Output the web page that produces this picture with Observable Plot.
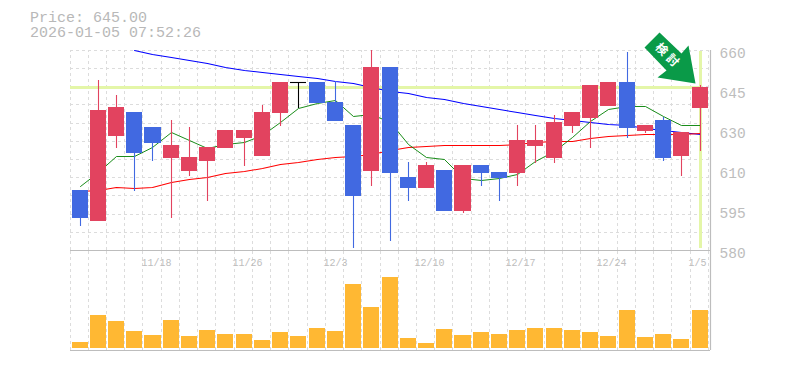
<!DOCTYPE html>
<html>
<head>
<meta charset="utf-8">
<script src="https://cdn.jsdelivr.net/npm/d3@7"></script>
<script src="https://cdn.jsdelivr.net/npm/@observablehq/plot@0.6"></script>
<style>
  html, body { margin: 0; padding: 0; background: #fff; }
  #page { position: relative; width: 785px; height: 370px; overflow: hidden; }
  #title { position: absolute; left: 30px; top: 11px; font: 15px/15px "Liberation Mono", monospace; color: #b8b8b8; white-space: pre; z-index: 2; }
  #price, #volume { position: absolute; left: 0; }
  #price { top: 0; } #volume { top: 250px; }
  svg { display: block; background: transparent !important; }
</style>
</head>
<body>
<div id="page">
  <div id="title">Price: 645.00
2026-01-05 07:52:26</div>
  <div id="volume"></div>
  <div id="price"></div>
</div>
<script>
const dates = ["11/12","11/13","11/14","11/17","11/18","11/19","11/20","11/21","11/25","11/26","11/27","11/28","12/1","12/2","12/3","12/4","12/5","12/8","12/9","12/10","12/11","12/12","12/15","12/16","12/17","12/18","12/19","12/22","12/23","12/24","12/25","12/26","12/29","12/30","1/5"];
const opens  = [604,591.6,625.6,635.2,629.2,616.8,611.6,615.6,620.8,624.8,617.6,634.8,647.2,647.2,639.2,630,611.6,653.2,609.2,604.8,612,595.6,614,611.2,610.8,621.6,616.8,629.6,632.8,637.6,647.2,627.6,632,617.6,636.8];
const closes = [592.8,636,637.2,618.8,622.8,622,617.2,621.2,628,628,635.2,647.2,647.2,638.8,631.6,601.6,653.2,610.8,604.8,614,595.6,614,610.8,608.8,624,624,631.2,635.2,646,647.2,628.8,630,616.8,627.2,645];
const highs  = [604,648,642,635.2,629.2,632,629.2,621.2,628,628,638,647.2,647.2,647.2,647.6,630,660,653.2,615.2,615.2,612,614,614,611.2,630,630,634,635.2,646,647.2,659.2,630,633.2,627.2,646];
const lows   = [589.6,591.6,620.8,603.6,615.6,592.8,609.6,599.6,620.8,613.6,617.6,629.6,636.8,638.8,631.6,580.8,605.6,583.6,599.6,604.8,595.6,594.8,605.6,599.6,605.6,614.8,614.8,626.8,620.8,637.6,624.8,626.8,615.6,609.6,619.6];
const maGreen = [605.7,611.3,617.6,617.6,621.3,627.2,624,620.8,622.4,623.3,626,631.3,636.9,638.7,639.9,633.5,634.3,631.1,622.4,617.3,616.3,608.8,607.9,608.7,610.5,615.7,619.7,625.3,631.6,636.5,637.7,637.7,633.7,630,630];
const maRed = [603.6,604,605,604.7,605.3,607.3,608.3,609.3,610.7,611.6,612.7,614.3,615.3,616.3,617.1,617.7,618.5,620,621.1,621.7,621.9,621.9,621.9,621.9,622.4,623.2,623.4,623.6,624.7,625.6,625.9,626.3,626.4,626.5,626.6];
const maBlue = [null,null,null,660,658.5,657.2,656,654.7,653.3,652,651.1,650.3,649.7,648.7,647.7,646.7,645.2,643.6,642.7,641.3,640.3,638.9,637.5,636.3,635.2,634,632.8,632,631.3,630.5,629.8,628.8,628,627.1,626.4];
const volumes = [6,33,27,17,13,28,12,18,14,14,8,16,12,20,17,64,41,71,10,5,19,13,16,14,18,20,20,18,16,12,38,11,14,9,38];
const dateTicks = ["11/18","11/26","12/3","12/10","12/17","12/24","1/5"];
const priceTicks = [580,596,612,628,644,660];
const priceLabels = ["580","595","610","630","645","660"];
const lastPrice = 645;
const arrowX = [32.34,33.51,33.93,34.30,32.23,32.71,31.5];
const arrowY = [667.2,658.8,661.9,646.8,649.2,652.1,661.1];
const stamp = [{t:"検",x:32.42,y:660.5},{t:"討",x:33.02,y:656.1}];

const RED = "#e2435f", BLUE = "#4169e1", ORANGE = "#ffb833", HILITE = "#e4f6a8", GRID = "#dcdcdc", AXIS = "#bdbdbd";
const MONO = "Liberation Mono, monospace";
const slots = d3.range(dates.length + 1);
const xScale = {type: "linear", domain: [0, 35], range: [69.5, 707.8], round: true};
const candles = dates.map((date, i) => ({
  date, i, open: opens[i], close: closes[i], high: highs[i], low: lows[i],
  color: closes[i] > opens[i] ? RED : closes[i] < opens[i] ? BLUE : "#000"
}));
const series = a => a.map((v, i) => ({i, v})).filter(d => d.v != null);
const maLine = (a, stroke, strokeWidth) => Plot.line(series(a), {x: d => d.i + 0.55, y: "v", stroke, strokeWidth});
const frameEdge = 35.1;

const price = Plot.plot({
  width: 785, height: 262, marginTop: 50, marginBottom: 12, marginLeft: 70, marginRight: 75,
  style: {overflow: "visible", background: "transparent"},
  x: {...xScale, axis: null},
  y: {domain: [580, 660], range: [249.9, 49.9], round: true, axis: null},
  color: {type: "identity"},
  marks: [
    Plot.ruleY(d3.range(12).map(k => 580 + k * 80 / 11), {x1: 0, x2: frameEdge, stroke: GRID, strokeDasharray: "3,3"}),
    Plot.ruleX(slots, {x: d => d, y1: 580, y2: 660, stroke: GRID, strokeDasharray: "3,3"}),
    Plot.ruleY([lastPrice], {x1: 0, x2: 34.55, stroke: HILITE, strokeWidth: 3}),
    Plot.ruleX([34.55], {y1: 580.6, y2: 659.6, stroke: HILITE, strokeWidth: 3}),
    Plot.ruleY([580], {x1: 0, x2: frameEdge, stroke: AXIS, strokeWidth: 1.2}),
    Plot.ruleX([frameEdge], {y1: 580, y2: 660, stroke: AXIS, strokeWidth: 1.2}),
    maLine(maBlue, "#0000ff", 1.05),
    maLine(maRed, "#ff0000", 1.05),
    maLine(maGreen, "#008000", 0.9),
    Plot.ruleX(candles, {x: d => d.i + 0.55, y1: "low", y2: "high", stroke: "color", strokeWidth: 1.1}),
    Plot.rectY(candles.filter(d => d.open !== d.close), {x1: d => d.i + 0.11, x2: d => d.i + 0.99, y1: "open", y2: "close", fill: "color"}),
    Plot.ruleY(candles.filter(d => d.open === d.close), {x1: d => d.i + 0.11, x2: d => d.i + 0.99, y: "close", stroke: "color", strokeWidth: 1.1}),
    Plot.line(arrowX.map((x, k) => ({x, y: arrowY[k]})), {x: "x", y: "y", fill: "#0a9a48", stroke: "none", curve: "linear-closed"}),
    Plot.text(stamp, {x: "x", y: "y", text: "t", rotate: 45, fill: "#fff", fontSize: 12, fontWeight: "bold", fontFamily: "Noto Sans CJK JP"}),
    Plot.axisY(priceTicks, {
      anchor: "right", tickSize: 0, tickPadding: 9, textAnchor: "start", dy: 3,
      tickFormat: (d, k) => priceLabels[k], fill: "#bdbdbd", fontSize: 14.5, fontFamily: MONO, label: null
    })
  ]
});
document.getElementById("price").appendChild(price);

const volume = Plot.plot({
  width: 785, height: 110, marginTop: 0, marginBottom: 10, marginLeft: 70, marginRight: 75,
  style: {overflow: "visible", background: "transparent"},
  x: {...xScale, axis: null},
  y: {domain: [0, 98], range: [98, 0], round: true, axis: null},
  marks: [
    Plot.ruleX(slots, {x: d => d, y1: -2, y2: 98, stroke: GRID, strokeDasharray: "3,3"}),
    Plot.rectY(volumes.map((v, i) => ({v, i})), {x1: d => d.i + 0.11, x2: d => d.i + 0.99, y1: 0, y2: "v", fill: ORANGE}),
    Plot.ruleY([-2], {x1: 0, x2: frameEdge, stroke: AXIS, strokeWidth: 1.2}),
    Plot.ruleX([frameEdge], {y1: -2, y2: 98, stroke: AXIS, strokeWidth: 1.2}),
    Plot.text(dateTicks, {x: d => dates.indexOf(d) + 0.5, y: 86, text: d => d, textAnchor: "start", dx: -11, fill: "#bdbdbd", fontSize: 10, fontFamily: MONO})
  ]
});
document.getElementById("volume").appendChild(volume);
</script>
</body>
</html>
